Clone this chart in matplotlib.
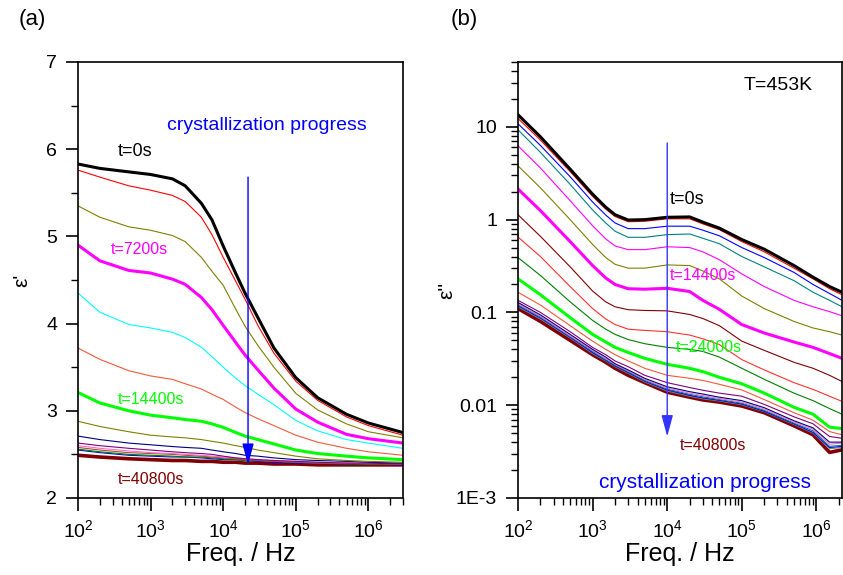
import matplotlib
matplotlib.use("Agg")
import matplotlib.pyplot as plt
from matplotlib.ticker import LogLocator, NullFormatter, FixedLocator, MultipleLocator
import numpy as np

plt.rcParams['font.family'] = ['Liberation Sans', 'DejaVu Sans']
plt.rcParams['mathtext.default'] = 'regular'

W, H = 843, 575

# ---- panel (a): real part eps' ----
freq_a = [1e2, 2e2, 5e2, 1e3, 2e3, 3e3, 5e3, 7e3, 1e4, 1.5e4, 2e4, 3e4, 5e4, 1e5, 2e5, 5e5, 1e6, 3e6]

eps1_t0 = [5.83, 5.78, 5.74, 5.71, 5.66, 5.58, 5.38, 5.19, 4.89, 4.57, 4.35, 4.07, 3.72, 3.38, 3.15, 2.96, 2.86, 2.75]
eps1_red = [5.76, 5.68, 5.58, 5.53, 5.47, 5.40, 5.22, 5.02, 4.76, 4.48, 4.28, 3.98, 3.66, 3.34, 3.12, 2.93, 2.83, 2.72]
eps1_olive = [5.35, 5.22, 5.11, 5.07, 5.01, 4.94, 4.76, 4.60, 4.44, 4.16, 3.97, 3.75, 3.50, 3.20, 3.01, 2.85, 2.76, 2.69]
eps1_t7200 = [4.90, 4.72, 4.61, 4.58, 4.51, 4.45, 4.30, 4.16, 3.98, 3.78, 3.64, 3.47, 3.26, 3.02, 2.87, 2.73, 2.68, 2.63]
eps1_cyan = [4.35, 4.13, 3.99, 3.95, 3.90, 3.84, 3.73, 3.62, 3.50, 3.37, 3.29, 3.19, 3.07, 2.89, 2.77, 2.67, 2.63, 2.57]
eps1_coral = [3.72, 3.59, 3.46, 3.40, 3.36, 3.31, 3.25, 3.19, 3.13, 3.04, 2.98, 2.91, 2.83, 2.72, 2.64, 2.57, 2.53, 2.49]
eps1_t14400 = [3.21, 3.09, 3.00, 2.95, 2.92, 2.90, 2.88, 2.85, 2.81, 2.75, 2.71, 2.67, 2.62, 2.55, 2.51, 2.48, 2.46, 2.44]
eps1_olive2 = [2.88, 2.82, 2.76, 2.72, 2.70, 2.69, 2.67, 2.65, 2.63, 2.60, 2.58, 2.55, 2.52, 2.48, 2.45, 2.43, 2.42, 2.41]
eps1_navy = [2.71, 2.67, 2.63, 2.61, 2.59, 2.58, 2.57, 2.55, 2.53, 2.51, 2.49, 2.48, 2.46, 2.44, 2.43, 2.42, 2.41, 2.40]
eps1_purple = [2.63, 2.60, 2.57, 2.55, 2.53, 2.52, 2.51, 2.50, 2.48, 2.46, 2.45, 2.44, 2.43, 2.42, 2.41, 2.40, 2.40, 2.39]
eps1_pink = [2.60, 2.57, 2.54, 2.52, 2.51, 2.50, 2.49, 2.48, 2.47, 2.46, 2.45, 2.44, 2.43, 2.42, 2.41, 2.40, 2.40, 2.39]
eps1_sienna = [2.58, 2.55, 2.52, 2.51, 2.50, 2.49, 2.48, 2.47, 2.46, 2.45, 2.44, 2.43, 2.42, 2.41, 2.40, 2.40, 2.39, 2.39]
eps1_dkgreen = [2.56, 2.53, 2.50, 2.49, 2.48, 2.47, 2.47, 2.46, 2.45, 2.44, 2.43, 2.43, 2.42, 2.41, 2.40, 2.39, 2.39, 2.39]
eps1_blue = [2.55, 2.52, 2.49, 2.48, 2.47, 2.47, 2.46, 2.45, 2.44, 2.44, 2.43, 2.42, 2.41, 2.40, 2.40, 2.39, 2.39, 2.38]
eps1_t40800 = [2.49, 2.47, 2.45, 2.44, 2.43, 2.43, 2.42, 2.42, 2.41, 2.41, 2.40, 2.40, 2.39, 2.39, 2.38, 2.38, 2.38, 2.38]

curves_a = [
    (eps1_t40800, '#800000', 2.6),
    (eps1_blue, '#0000FF', 0.8),
    (eps1_dkgreen, '#008000', 0.8),
    (eps1_sienna, '#A0522D', 0.8),
    (eps1_pink, '#FF66CC', 0.8),
    (eps1_purple, '#800080', 0.8),
    (eps1_navy, '#000080', 0.8),
    (eps1_olive2, '#808000', 0.8),
    (eps1_t14400, '#00FF00', 2.2),
    (eps1_coral, '#F05A3C', 0.8),
    (eps1_cyan, '#00FFFF', 0.8),
    (eps1_t7200, '#FF00FF', 2.2),
    (eps1_olive, '#808000', 0.8),
    (eps1_red, '#FF0000', 0.8),
    (eps1_t0, '#000000', 2.2),
]

# ---- panel (b): imaginary part eps'' ----
freq_b = [1e2, 2e2, 5e2, 1e3, 1.5e3, 2e3, 3e3, 5e3, 1e4, 2e4, 3e4, 5e4, 1e5, 2e5, 5e5, 9e5, 1.5e6, 2.2e6]

eps2_t0 = [13.5, 7.8, 3.5, 1.88, 1.36, 1.13, 0.99, 1.0, 1.06, 1.07, 0.94, 0.81, 0.61, 0.48, 0.32, 0.24, 0.19, 0.165]
eps2_red = [12.3, 7.2, 3.3, 1.78, 1.30, 1.08, 0.95, 0.96, 1.02, 1.02, 0.90, 0.78, 0.58, 0.45, 0.30, 0.23, 0.18, 0.155]
eps2_blue = [10.8, 6.3, 2.9, 1.55, 1.12, 0.92, 0.80, 0.80, 0.85, 0.85, 0.77, 0.67, 0.50, 0.39, 0.27, 0.20, 0.16, 0.135]
eps2_teal = [9.3, 5.3, 2.4, 1.27, 0.92, 0.75, 0.645, 0.645, 0.69, 0.70, 0.63, 0.55, 0.40, 0.31, 0.22, 0.165, 0.135, 0.115]
eps2_pink = [6.25, 3.6, 1.6, 0.86, 0.62, 0.52, 0.475, 0.475, 0.51, 0.50, 0.45, 0.37, 0.26, 0.19, 0.135, 0.115, 0.102, 0.092]
eps2_olive = [3.8, 2.2, 1.0, 0.54, 0.39, 0.33, 0.30, 0.30, 0.325, 0.32, 0.28, 0.23, 0.15, 0.11, 0.08, 0.068, 0.062, 0.057]
eps2_t14400 = [2.14, 1.25, 0.58, 0.32, 0.235, 0.20, 0.18, 0.178, 0.182, 0.168, 0.135, 0.108, 0.074, 0.060, 0.048, 0.042, 0.036, 0.032]
eps2_brown = [1.13, 0.66, 0.31, 0.17, 0.13, 0.115, 0.107, 0.105, 0.104, 0.095, 0.086, 0.072, 0.049, 0.039, 0.029, 0.025, 0.021, 0.018]
eps2_red2 = [0.65, 0.40, 0.19, 0.11, 0.085, 0.074, 0.066, 0.064, 0.062, 0.057, 0.052, 0.045, 0.031, 0.024, 0.0175, 0.0148, 0.0125, 0.011]
eps2_dkgreen = [0.39, 0.25, 0.13, 0.082, 0.066, 0.058, 0.051, 0.046, 0.042, 0.040, 0.038, 0.033, 0.025, 0.019, 0.0135, 0.0112, 0.0092, 0.008]
eps2_t24000 = [0.23, 0.155, 0.088, 0.058, 0.048, 0.042, 0.037, 0.032, 0.0276, 0.025, 0.023, 0.020, 0.017, 0.0135, 0.0095, 0.008, 0.0058, 0.0056]
eps2_coral = [0.165, 0.12, 0.072, 0.049, 0.040, 0.035, 0.030, 0.025, 0.021, 0.0195, 0.0185, 0.0168, 0.0146, 0.0115, 0.0083, 0.0069, 0.0052, 0.0048]
eps2_purple = [0.135, 0.10, 0.062, 0.042, 0.035, 0.030, 0.026, 0.021, 0.0175, 0.0155, 0.0145, 0.0135, 0.0125, 0.0102, 0.0075, 0.0063, 0.0046, 0.0044]
eps2_c1 = [0.128, 0.094, 0.058, 0.040, 0.033, 0.028, 0.024, 0.0195, 0.0158, 0.0140, 0.0132, 0.0122, 0.0112, 0.0094, 0.0068, 0.0057, 0.0040, 0.0040]
eps2_c2 = [0.124, 0.091, 0.056, 0.039, 0.032, 0.0275, 0.0235, 0.019, 0.0153, 0.0135, 0.0127, 0.0118, 0.0108, 0.0091, 0.0066, 0.0055, 0.0038, 0.0039]
eps2_c3 = [0.121, 0.089, 0.055, 0.038, 0.031, 0.027, 0.023, 0.0185, 0.0149, 0.0131, 0.0123, 0.0115, 0.0105, 0.0088, 0.0064, 0.0053, 0.0036, 0.0037]
eps2_c4 = [0.118, 0.087, 0.054, 0.037, 0.0305, 0.0265, 0.0225, 0.0182, 0.0146, 0.0128, 0.0120, 0.0113, 0.0103, 0.0086, 0.0063, 0.0051, 0.0035, 0.0036]
eps2_c5 = [0.115, 0.085, 0.053, 0.036, 0.030, 0.026, 0.022, 0.0178, 0.0142, 0.0125, 0.0117, 0.0111, 0.0101, 0.0085, 0.0062, 0.0050, 0.0034, 0.0035]
eps2_t40800 = [0.11, 0.08, 0.05, 0.035, 0.029, 0.025, 0.021, 0.0175, 0.0138, 0.0122, 0.0114, 0.0108, 0.0098, 0.0083, 0.0060, 0.0048, 0.0031, 0.0033]

curves_b = [
    (eps2_t40800, '#800000', 2.6),
    (eps2_c5, '#808080', 0.8),
    (eps2_c4, '#0000FF', 0.8),
    (eps2_c3, '#008080', 0.8),
    (eps2_c2, '#FF66CC', 0.8),
    (eps2_c1, '#000080', 0.8),
    (eps2_purple, '#800080', 0.8),
    (eps2_coral, '#F05A3C', 0.8),
    (eps2_t24000, '#00FF00', 2.2),
    (eps2_dkgreen, '#008000', 0.8),
    (eps2_red2, '#FF3030', 0.8),
    (eps2_brown, '#800000', 0.8),
    (eps2_t14400, '#FF00FF', 2.2),
    (eps2_olive, '#808000', 0.8),
    (eps2_pink, '#FF00FF', 0.8),
    (eps2_teal, '#008080', 0.8),
    (eps2_blue, '#0000FF', 0.8),
    (eps2_red, '#FF0000', 0.8),
    (eps2_t0, '#000000', 2.2),
]


def style_axis(ax):
    for s in ax.spines.values():
        s.set_linewidth(1.2)
    ax.set_xscale('log')
    ax.xaxis.set_major_locator(LogLocator(base=10, numticks=10))
    ax.xaxis.set_minor_locator(LogLocator(base=10, subs=np.arange(2, 10), numticks=20))
    ax.xaxis.set_minor_formatter(NullFormatter())
    ax.tick_params(which='major', direction='out', length=9, width=1.2, labelsize=14, pad=6)
    ax.tick_params(which='minor', direction='out', length=5, width=1.0)
    ax.tick_params(axis='x', which='major', pad=6)
    ax.set_xlabel('Freq. / Hz', fontsize=18, labelpad=1)


def ftext(x, y, s, **kw):
    # place text by pixel position in the figure
    fig.text(x / W, 1 - y / H, s, **kw)


fig = plt.figure(figsize=(W / 100, H / 100), dpi=100)
ax1 = fig.add_axes([78 / W, 1 - 498 / H, 325 / W, 436 / H])
ax2 = fig.add_axes([518 / W, 1 - 498 / H, 324 / W, 436 / H])

# (a)
for vals, col, lw in curves_a:
    ax1.plot(freq_a, vals, color=col, lw=lw)
style_axis(ax1)
ax1.set_xlim(1e2, 3e6)
ax1.set_ylim(2, 7)
ax1.yaxis.set_major_locator(MultipleLocator(1))
ax1.yaxis.set_minor_locator(MultipleLocator(0.5))
ax1.annotate('', xy=(2.2e4, 2.38), xytext=(2.2e4, 5.68),
             arrowprops=dict(arrowstyle='-|>,head_length=1.3,head_width=0.35',
                             color='#0000FF', lw=1.0, shrinkA=0, shrinkB=0))
ftext(267, 126, 'crystallization progress', color='#0000FF', fontsize=14, ha='center', va='center')
ftext(118, 152, 't=0s', color='black', fontsize=13, ha='left', va='center')
ftext(111, 250, 't=7200s', color='#FF00FF', fontsize=11.5, ha='left', va='center')
ftext(118, 400, 't=14400s', color='#00FF00', fontsize=11.5, ha='left', va='center')
ftext(118, 480, 't=40800s', color='#800000', fontsize=11.5, ha='left', va='center')
ftext(22, 280, "ε'", fontsize=15, rotation=90, ha='center', va='center')
ftext(32, 19, '(a)', fontsize=16, ha='center', va='center')

# (b)
for vals, col, lw in curves_b:
    ax2.plot(freq_b, vals, color=col, lw=lw)
style_axis(ax2)
ax2.set_yscale('log')
ax2.set_xlim(1e2, 2.2e6)
ax2.set_ylim(1e-3, 50)
ax2.yaxis.set_major_locator(FixedLocator([1e-3, 1e-2, 1e-1, 1, 10]))
ax2.set_yticklabels(['1E-3', '0.01', '0.1', '1', '10'])
ax2.yaxis.set_minor_locator(LogLocator(base=10, subs=np.arange(2, 10), numticks=20))
ax2.yaxis.set_minor_formatter(NullFormatter())
ax2.annotate('', xy=(1e4, 0.0046), xytext=(1e4, 6.7),
             arrowprops=dict(arrowstyle='-|>,head_length=1.3,head_width=0.35',
                             color='#3333FF', lw=1.0, shrinkA=0, shrinkB=0))
ftext(670, 200, 't=0s', color='black', fontsize=13, ha='left', va='center')
ftext(670, 276, 't=14400s', color='#FF00FF', fontsize=11.5, ha='left', va='center')
ftext(676, 348, 't=24000s', color='#00FF00', fontsize=11.5, ha='left', va='center')
ftext(680, 446, 't=40800s', color='#800000', fontsize=11.5, ha='left', va='center')
ftext(705, 482, 'crystallization progress', color='#0000FF', fontsize=15, ha='center', va='center')
ftext(778, 85, 'T=453K', color='black', fontsize=14, ha='center', va='center')
ftext(447, 290, "ε''", fontsize=15, rotation=90, ha='center', va='center')
ftext(464, 19, '(b)', fontsize=16, ha='center', va='center')

fig.savefig('out.png', dpi=100)
